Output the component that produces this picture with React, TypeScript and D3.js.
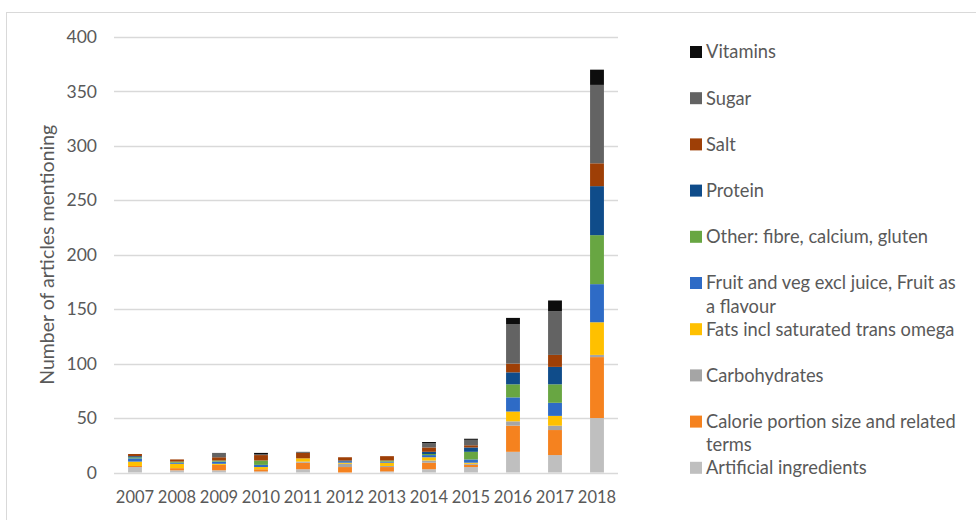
import React, { useEffect, useRef } from "react";
import * as d3 from "d3";

const years = ["2007", "2008", "2009", "2010", "2011", "2012", "2013", "2014", "2015", "2016", "2017", "2018"];

// stacking order, bottom to top
const seriesNames = [
  "Artificial ingredients",
  "Calorie portion size and related terms",
  "Carbohydrates",
  "Fats incl saturated trans omega",
  "Fruit and veg excl juice, Fruit as a flavour",
  "Other: fibre, calcium, gluten",
  "Protein",
  "Salt",
  "Sugar",
  "Vitamins",
];

const artificial = [5, 2, 2, 1, 3, 0, 1, 3, 5, 19, 16, 50];
const calorie = [1, 2, 5, 2, 6, 5, 4, 6, 2, 24, 23, 56];
const carbohydrates = [0, 0, 0, 0, 1, 3, 1, 2, 1, 4, 4, 2];
const fats = [4, 4, 1, 2, 3, 1, 3, 3, 1, 9, 9, 30];
const fruit = [3, 1, 2, 2, 0, 1, 1, 2, 3, 13, 12, 35];
const other = [1, 1, 1, 4, 0, 0, 1, 1, 7, 12, 17, 45];
const protein = [1, 0, 0, 0, 0, 1, 0, 2, 4, 11, 16, 45];
const salt = [2, 2, 3, 5, 5, 3, 4, 4, 2, 8, 11, 21];
const sugar = [0, 0, 4, 1, 1, 0, 0, 4, 5, 36, 40, 72];
const vitamins = [0, 0, 0, 1, 0, 0, 0, 1, 1, 6, 10, 14];

const seriesValues = [artificial, calorie, carbohydrates, fats, fruit, other, protein, salt, sugar, vitamins];

const colors = ["#bfbfbf", "#f5821f", "#a5a5a5", "#ffc000", "#2e6bc6", "#68a642", "#0f4c8a", "#9e3f06", "#636363", "#0d0d0d"];

// legend lines (top to bottom), wrapped as in the picture
const legendLines: string[][] = [
  ["Vitamins"],
  ["Sugar"],
  ["Salt"],
  ["Protein"],
  ["Other: fibre, calcium, gluten"],
  ["Fruit and veg excl juice, Fruit as", "a flavour"],
  ["Fats incl saturated trans omega"],
  ["Carbohydrates"],
  ["Calorie portion size and related", "terms"],
  ["Artificial ingredients"],
];

const yTicks = [0, 50, 100, 150, 200, 250, 300, 350, 400];

function App() {
  const ref = useRef<SVGSVGElement | null>(null);
  const width = 976;
  const height = 520;
  const marginTop = 37;
  const marginLeft = 114;
  const plotRight = 618;
  const baseline = 472.5;
  const font = "Lato, 'Open Sans', sans-serif";
  const textColor = "#595959";

  useEffect(() => {
    document.body.style.margin = "0";

    const rows = years.map((y, i) => {
      const r: any = { year: y };
      seriesNames.forEach((s, j) => (r[s] = seriesValues[j][i]));
      return r;
    });
    const stacked = d3.stack<any>().keys(seriesNames)(rows);

    const x = d3.scaleBand().domain(years).range([marginLeft, plotRight]).paddingInner(0.67).paddingOuter(0.335);
    const y = d3.scaleLinear().domain([0, 400]).range([baseline, marginTop]);

    const svg = d3.select(ref.current);
    svg.selectAll("*").remove();
    svg.attr("width", width).attr("height", height).attr("viewBox", [0, 0, width, height]);

    svg.append("rect")
      .attr("x", 6.5).attr("y", 12.5)
      .attr("width", width + 10).attr("height", height + 10)
      .attr("fill", "white").attr("stroke", "#d9d9d9");

    // gridlines
    svg.append("g")
      .selectAll("line")
      .data(yTicks)
      .join("line")
      .attr("x1", marginLeft).attr("x2", plotRight)
      .attr("y1", (d) => Math.round(y(d)) + 0.5).attr("y2", (d) => Math.round(y(d)) + 0.5)
      .attr("stroke", "#d9d9d9").attr("stroke-width", 1.5);

    // y labels
    svg.append("g")
      .selectAll("text")
      .data(yTicks)
      .join("text")
      .attr("x", 97).attr("y", (d) => y(d))
      .attr("dy", "0.35em").attr("text-anchor", "end")
      .attr("font-family", font).attr("font-size", 17.5).attr("fill", textColor)
      .text((d) => d);

    // x labels
    svg.append("g")
      .selectAll("text")
      .data(years)
      .join("text")
      .attr("x", (d) => (x(d) as number) + x.bandwidth() / 2).attr("y", 502.5)
      .attr("text-anchor", "middle")
      .attr("font-family", font).attr("font-size", 16.5).attr("fill", textColor)
      .text((d) => d);

    // bars
    svg.append("g")
      .selectAll("g")
      .data(stacked)
      .join("g")
      .attr("fill", (d, i) => colors[i])
      .selectAll("rect")
      .data((d) => d)
      .join("rect")
      .attr("x", (d) => x(d.data.year) as number)
      .attr("width", x.bandwidth())
      .attr("y", (d) => y(d[1]))
      .attr("height", (d) => y(d[0]) - y(d[1]));

    // axis title
    svg.append("text")
      .attr("transform", `translate(54,${(marginTop + baseline) / 2}) rotate(-90)`)
      .attr("text-anchor", "middle")
      .attr("font-family", font).attr("font-size", 19.5).attr("fill", textColor)
      .text("Number of articles mentioning");

    // legend
    const lg = svg.append("g")
      .selectAll("g")
      .data(legendLines)
      .join("g")
      .attr("transform", (d, i) => `translate(690,${52 + i * 46.2})`);
    lg.append("rect")
      .attr("x", 0).attr("y", -6).attr("width", 12).attr("height", 12)
      .attr("fill", (d, i) => colors[colors.length - 1 - i]);
    lg.append("text")
      .attr("font-family", font).attr("font-size", 18.3).attr("fill", textColor)
      .selectAll("tspan")
      .data((d) => d)
      .join("tspan")
      .attr("x", 16).attr("y", (d, i) => i * 23.5)
      .attr("dy", "0.35em")
      .text((d) => d);
  }, []);

  return <svg ref={ref}></svg>;
}

export default App;
